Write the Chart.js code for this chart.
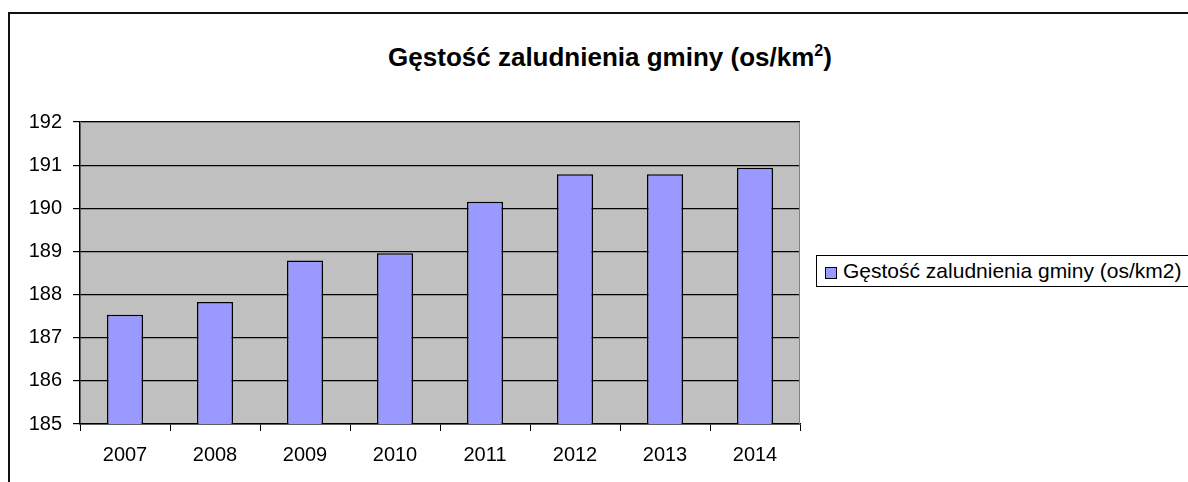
<!DOCTYPE html>
<html>
<head>
<meta charset="utf-8">
<script src="https://cdn.jsdelivr.net/npm/chart.js@4"></script>
<style>
    body { margin: 0; background: #fff; font-family: "Liberation Sans", Arial, sans-serif; }
    #wrap { position: relative; width: 1188px; height: 482px; overflow: hidden; }
    #frame { position: absolute; left: 8px; top: 12px; width: 1200px; height: 500px;
             border-left: 2px solid #111; border-top: 2px solid #111; }
    #title { position: absolute; left: 0; top: 44px; width: 1220px; text-align: center;
             font-weight: bold; font-size: 26px; line-height: 26px; color: #000; }
    #title sup { font-size: 16px; line-height: 0; vertical-align: 10px; }
    #legend { position: absolute; left: 816px; top: 255px; width: 400px; height: 30px;
              border: 1px solid #000; background: #fff; font-size: 21px; line-height: 30px; color: #000; }
    #legend .sw { display: inline-block; width: 10px; height: 10px; border: 1px solid #000;
                  margin: 0 6px 0 8px; vertical-align: -1px; }
    canvas { position: absolute; left: 0; top: 0; }
</style>
</head>
<body>
<div id="wrap">
    <div id="frame"></div>
    <div id="title">Gęstość zaludnienia gminy (os/km<sup>2</sup>)</div>
    <div id="legend"></div>
    <canvas id="densityChart" width="1188" height="482"></canvas>
</div>
<script>
// Data
const years = ['2007', '2008', '2009', '2010', '2011', '2012', '2013', '2014'];
const density = [187.53, 187.83, 188.79, 188.96, 190.15, 190.79, 190.79, 190.94];
const seriesLabel = 'Gęstość zaludnienia gminy (os/km2)';
const yMin = 185, yMax = 192;

const barColor = '#9999FF';

// Grey plot area with a thin border on top and right
const plotBackground = {
    id: 'plotBackground',
    beforeDraw(chart) {
        const { ctx, chartArea: a } = chart;
        ctx.save();
        ctx.fillStyle = '#C0C0C0';
        ctx.fillRect(a.left, a.top, a.right - a.left, a.bottom - a.top);
        ctx.restore();
    },
    afterDraw(chart) {
        const { ctx, chartArea: a } = chart;
        ctx.save();
        ctx.strokeStyle = '#808080';
        ctx.lineWidth = 1;
        ctx.beginPath();
        ctx.moveTo(a.left, a.top + 0.5);
        ctx.lineTo(a.right - 0.5, a.top + 0.5);
        ctx.lineTo(a.right - 0.5, a.bottom);
        ctx.stroke();
        ctx.restore();
    }
};

document.getElementById('legend').innerHTML =
    `<span class="sw" style="background:${barColor}"></span>${seriesLabel}`;

new Chart(document.getElementById('densityChart').getContext('2d'), {
    type: 'bar',
    data: {
        labels: years,
        datasets: [{
            label: seriesLabel,
            data: density,
            backgroundColor: barColor,
            borderColor: '#000',
            borderWidth: 1.5,
            barPercentage: 0.4,
            categoryPercentage: 1
        }]
    },
    options: {
        responsive: false,
        animation: false,
        layout: { padding: { left: 20, right: 388, top: 122, bottom: 8 } },
        plugins: {
            legend: { display: false },
            title: { display: false },
            tooltip: { enabled: false }
        },
        scales: {
            x: {
                afterFit(scale) { scale.height = 50; },
                grid: { drawOnChartArea: false, tickLength: 7, color: '#000', lineWidth: 1 },
                border: { color: '#000', width: 1.5 },
                ticks: { color: '#000', padding: 12, font: { family: 'Liberation Sans', size: 20 } }
            },
            y: {
                min: yMin,
                max: yMax,
                afterFit(scale) { scale.width = 60; },
                grid: { color: '#000', lineWidth: 1.2, tickLength: 7 },
                border: { color: '#000', width: 1.5 },
                ticks: { stepSize: 1, color: '#000', padding: 11, font: { family: 'Liberation Sans', size: 20 } }
            }
        }
    },
    plugins: [plotBackground]
});
</script>
</body>
</html>
